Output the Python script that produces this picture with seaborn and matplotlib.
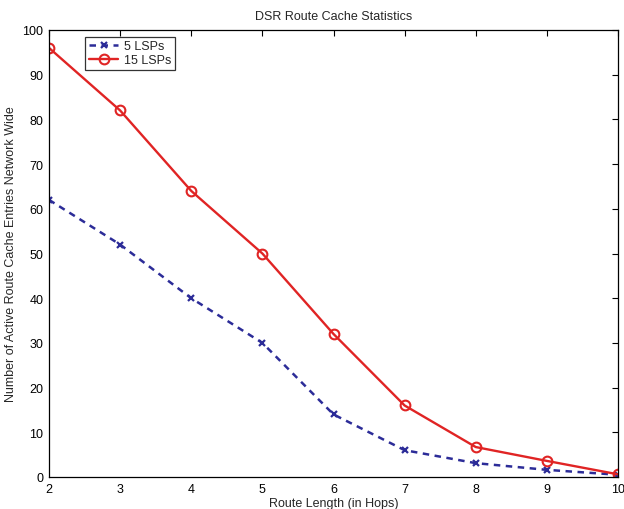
import matplotlib
matplotlib.use("Agg")
import matplotlib.pyplot as plt
import seaborn as sns
import pandas as pd

hops = [2, 3, 4, 5, 6, 7, 8, 9, 10]
lsp5 = [62, 52, 40, 30, 14, 6, 3.1, 1.6, 0.5]
lsp15 = [96, 82, 64, 50, 32, 16, 6.7, 3.6, 0.6]

sns.set_style("white")
plt.rcParams['font.family'] = ['Liberation Sans', 'DejaVu Sans']

fig = plt.figure(figsize=(6.24, 5.10), dpi=100)
ax = fig.add_axes([49/624, 32/510, (618-49)/624, (478-31)/510])

df5 = pd.DataFrame({"x": hops, "y": lsp5})
df15 = pd.DataFrame({"x": hops, "y": lsp15})

blue = "#2c2c98"
red = "#e02424"
sns.lineplot(data=df5, x="x", y="y", ax=ax, color=blue, linestyle=(0, (2.6, 2.2)),
             marker="x", markersize=5, markeredgewidth=1.6, markeredgecolor=blue,
             linewidth=1.8, label="5 LSPs")
sns.lineplot(data=df15, x="x", y="y", ax=ax, color=red, linestyle="-",
             marker="o", markersize=7, markerfacecolor="none", markeredgewidth=1.5,
             markeredgecolor=red, linewidth=1.7, label="15 LSPs")

ax.set_xlim(2, 10)
ax.set_ylim(0, 100)
ax.set_xticks(range(2, 11))
ax.set_yticks(range(0, 101, 10))
ax.tick_params(direction="in", length=4, width=0.8, labelsize=9, top=True, right=True,
               colors="black", pad=4)
for s in ax.spines.values():
    s.set_color("black")
    s.set_linewidth(0.9)
    s.set_visible(True)
ax.set_xlabel("Route Length (in Hops)", fontsize=9, labelpad=2)
ax.set_ylabel("Number of Active Route Cache Entries Network Wide", fontsize=9, labelpad=4)
ax.set_title("DSR Route Cache Statistics", fontsize=9, pad=8)

leg = ax.legend(loc="upper left", bbox_to_anchor=(0.064, 0.985), fontsize=9, frameon=True,
                fancybox=False, edgecolor="black", handlelength=2.3, borderpad=0.3,
                labelspacing=0.15, handletextpad=0.5, borderaxespad=0)
leg.get_frame().set_linewidth(0.9)

fig.savefig("out.png", dpi=100)
